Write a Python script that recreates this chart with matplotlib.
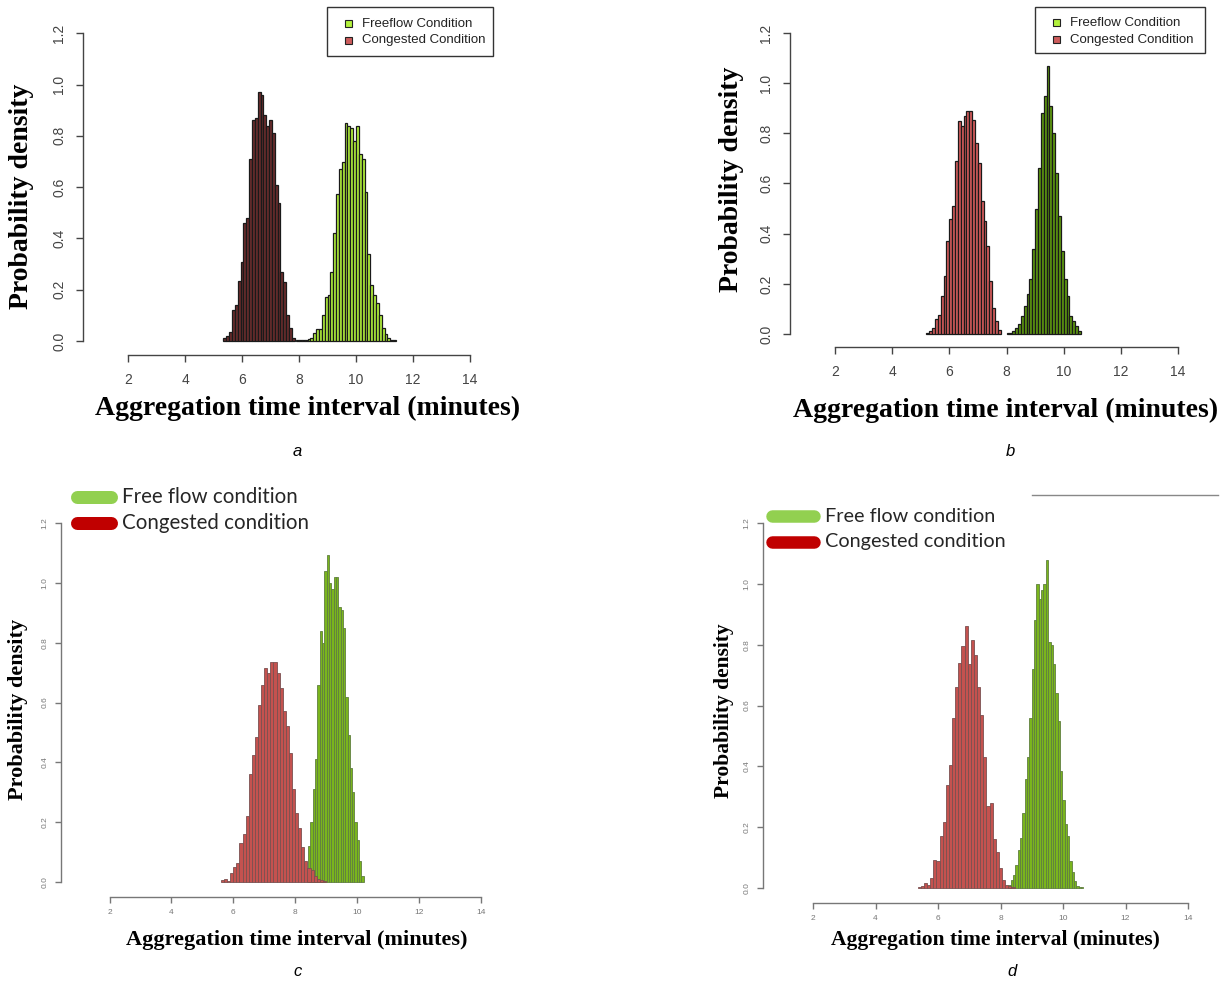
import numpy as np
import matplotlib.pyplot as plt
from matplotlib.patches import Rectangle
from matplotlib.lines import Line2D
from matplotlib.ticker import FormatStrFormatter

# histogram densities: first bin edge, bin width, bar heights
# panel a
freeflow_a_start, freeflow_a_width = 7.9, 0.1
freeflow_a = [0.003, 0.002, 0.002, 0.004, 0.008, 0.013, 0.03, 0.045, 0.047, 0.10, 0.17, 0.18,
              0.27, 0.42, 0.575, 0.67, 0.70, 0.85, 0.84, 0.83, 0.78, 0.84, 0.73, 0.71, 0.58,
              0.34, 0.22, 0.18, 0.15, 0.10, 0.05, 0.026, 0.01, 0.005, 0.003]
congested_a_start, congested_a_width = 5.35, 0.1
congested_a = [0.01, 0.02, 0.035, 0.12, 0.14, 0.235, 0.31, 0.46, 0.48, 0.71, 0.86, 0.87, 0.97,
               0.96, 0.88, 0.84, 0.86, 0.81, 0.61, 0.54, 0.27, 0.23, 0.10, 0.05, 0.01]
# panel b
freeflow_b_start, freeflow_b_width = 8.0, 0.1
freeflow_b = [0.003, 0.005, 0.01, 0.025, 0.04, 0.07, 0.11, 0.16, 0.22, 0.34, 0.50, 0.66, 0.88,
              0.95, 1.07, 0.91, 0.80, 0.64, 0.47, 0.33, 0.22, 0.15, 0.07, 0.05, 0.03, 0.01]
congested_b_start, congested_b_width = 5.2, 0.1
congested_b = [0.005, 0.01, 0.023, 0.06, 0.075, 0.15, 0.23, 0.37, 0.46, 0.51, 0.69, 0.85, 0.83,
               0.87, 0.89, 0.89, 0.855, 0.76, 0.68, 0.53, 0.45, 0.35, 0.21, 0.105, 0.05, 0.015]
# panel c
freeflow_c_start, freeflow_c_width = 8.42, 0.075
freeflow_c = [0.12, 0.20, 0.31, 0.41, 0.66, 0.84, 0.80, 1.04, 1.094, 1.0, 0.98, 1.02, 1.02,
              0.92, 0.91, 0.85, 0.62, 0.49, 0.38, 0.30, 0.20, 0.14, 0.07, 0.02]
congested_c_start, congested_c_width = 5.6, 0.1
congested_c = [0.005, 0.008, 0.004, 0.028, 0.05, 0.063, 0.13, 0.16, 0.22, 0.36, 0.425, 0.485,
               0.593, 0.66, 0.715, 0.70, 0.735, 0.735, 0.70, 0.65, 0.57, 0.52, 0.43, 0.31, 0.23,
               0.18, 0.115, 0.07, 0.045, 0.04, 0.02, 0.01, 0.006, 0.004]
# panel d
freeflow_d_start, freeflow_d_width = 8.25, 0.075
freeflow_d = [0.01, 0.027, 0.044, 0.077, 0.126, 0.164, 0.247, 0.36, 0.43, 0.56, 0.72, 0.88, 1.0,
              0.95, 0.98, 1.0, 1.08, 0.81, 0.80, 0.735, 0.64, 0.55, 0.385, 0.29, 0.21, 0.17,
              0.088, 0.052, 0.022, 0.008, 0.004, 0.004]
congested_d_start, congested_d_width = 5.35, 0.1
congested_d = [0.003, 0.005, 0.016, 0.01, 0.033, 0.093, 0.088, 0.17, 0.216, 0.34, 0.405, 0.56,
               0.66, 0.74, 0.795, 0.863, 0.735, 0.815, 0.765, 0.66, 0.57, 0.43, 0.27, 0.28, 0.16,
               0.12, 0.066, 0.027, 0.01, 0.005, 0.003]

x_ticks = [2, 4, 6, 8, 10, 12, 14]
y_ticks = [0.0, 0.2, 0.4, 0.6, 0.8, 1.0, 1.2]
xlabel = 'Aggregation time interval (minutes)'
ylabel = 'Probability density'

W, H = 1227, 982
fig = plt.figure(figsize=(W / 100, H / 100), dpi=100)


def fx(x):
    return x / W


def fy(y):
    return 1 - y / H


def make_axes(left, bottom, x2, x14, y0, y12, axcol, tsize, tlen, ypad, xpad):
    # pixel geometry of an R style plot -> matplotlib axes
    sx = (x14 - x2) / 12.0
    sy = (y0 - y12) / 1.2
    dx = x2 - left
    dy = bottom - y0
    right = x14 + dx
    top = y12 - dy
    ax = fig.add_axes([fx(left), fy(bottom), (right - left) / W, (bottom - top) / H])
    ax.set_xlim(2 - dx / sx, 14 + dx / sx)
    ax.set_ylim(-dy / sy, 1.2 + dy / sy)
    for s in ['top', 'right']:
        ax.spines[s].set_visible(False)
    ax.spines['left'].set_bounds(0, 1.2)
    ax.spines['bottom'].set_bounds(2, 14)
    for s in ['left', 'bottom']:
        ax.spines[s].set_color(axcol)
        ax.spines[s].set_linewidth(1)
    ax.set_xticks(x_ticks)
    ax.set_yticks(y_ticks)
    ax.yaxis.set_major_formatter(FormatStrFormatter('%.1f'))
    ax.tick_params(colors=axcol, labelcolor=axcol, labelsize=tsize, length=tlen, width=1)
    ax.tick_params(axis='y', pad=ypad, labelrotation=90)
    ax.tick_params(axis='x', pad=xpad)
    for lab in ax.get_yticklabels():
        lab.set_va('center')
    for lab in ax.get_xticklabels() + ax.get_yticklabels():
        lab.set_family('Liberation Sans')
    return ax


def hist(ax, start, width, heights, color, edge, lw):
    edges = start + width * np.arange(len(heights))
    ax.bar(edges, heights, width=width, align='edge', color=color,
           edgecolor=edge, linewidth=lw)


serif = dict(family='Liberation Serif', weight='bold', ha='center', va='center')
cap = dict(family='Liberation Sans', style='italic', fontsize=12, ha='center', va='center')

# ---- panel a ----
ax = make_axes(83, 355, 128, 470, 341, 33.3, '#444444', 10, 5, 7, 8)
hist(ax, freeflow_a_start, freeflow_a_width, freeflow_a, '#b3f23c', '#1a1a1a', 0.9)
hist(ax, congested_a_start, congested_a_width, congested_a, '#6b2d2d', '#1a1a1a', 0.9)
fig.text(fx(308), fy(408), xlabel, fontsize=20, **serif)
fig.text(fx(22), fy(196), ylabel, fontsize=20, rotation=90, **serif)
fig.text(fx(297), fy(452), 'a', **cap)

# ---- panel b ----
ax = make_axes(790, 347, 835, 1178, 334, 33, '#444444', 10, 5, 7, 8)
hist(ax, freeflow_b_start, freeflow_b_width, freeflow_b, '#5e9a0f', '#1a1a1a', 0.9)
hist(ax, congested_b_start, congested_b_width, congested_b, '#d65c5c', '#1a1a1a', 0.9)
fig.text(fx(1006), fy(410), xlabel, fontsize=20, **serif)
fig.text(fx(731), fy(179), ylabel, fontsize=20, rotation=90, **serif)
fig.text(fx(1010), fy(452), 'b', **cap)

# ---- panel c ----
ax = make_axes(61, 897, 109.5, 480.7, 881.7, 523.3, '#777777', 6, 4, 5, 5)
hist(ax, freeflow_c_start, freeflow_c_width, freeflow_c, '#7ab51d', '#5f7f3f', 0.6)
hist(ax, congested_c_start, congested_c_width, congested_c, '#c4524f', '#7a5050', 0.6)
fig.text(fx(297), fy(940), xlabel, fontsize=16, **serif)
fig.text(fx(18), fy(709), ylabel, fontsize=16, rotation=90, **serif)
fig.text(fx(298), fy(972), 'c', **cap)

# ---- panel d ----
ax = make_axes(763, 903, 813, 1188, 888, 523, '#777777', 6, 4, 5, 5)
hist(ax, freeflow_d_start, freeflow_d_width, freeflow_d, '#7ab51d', '#5f7f3f', 0.6)
hist(ax, congested_d_start, congested_d_width, congested_d, '#c4524f', '#7a5050', 0.6)
fig.text(fx(995), fy(940), xlabel, fontsize=15.5, **serif)
fig.text(fx(724), fy(711), ylabel, fontsize=15.5, rotation=90, **serif)
fig.text(fx(1012), fy(972), 'd', **cap)


# ---- legends ----
def box_legend(x0, y0, x1, y1, sqx, rows, tx, colors, labels):
    fig.add_artist(Rectangle((fx(x0), fy(y1)), (x1 - x0) / W, (y1 - y0) / H,
                             transform=fig.transFigure, fill=False,
                             edgecolor='#333333', linewidth=1))
    for yc, c, lab in zip(rows, colors, labels):
        fig.add_artist(Rectangle((fx(sqx), fy(yc + 3.5)), 7 / W, 7 / H,
                                 transform=fig.transFigure, facecolor=c,
                                 edgecolor='#222222', linewidth=0.8))
        fig.text(fx(tx), fy(yc), lab, family='Liberation Sans', fontsize=9.5,
                 color='#222222', ha='left', va='center')


def pill_legend(xa, xb, rows, tx, thick, size, colors, labels):
    for yc, c, lab in zip(rows, colors, labels):
        r = thick / 2
        fig.add_artist(Line2D([fx(xa + r), fx(xb - r)], [fy(yc), fy(yc)],
                              transform=fig.transFigure, color=c,
                              linewidth=thick * 0.72, solid_capstyle='round'))
        fig.text(fx(tx), fy(yc), lab, family='Lato', fontsize=size,
                 color='#262626', ha='left', va='center')


box_legend(327, 7, 493, 56, 345, [23.7, 40.5], 361.7,
           ['#b3f23c', '#cd5c5c'], ['Freeflow Condition', 'Congested Condition'])
box_legend(1035, 7, 1205, 53, 1053, [22.5, 39.5], 1069.5,
           ['#b3f23c', '#cd5c5c'], ['Freeflow Condition', 'Congested Condition'])
pill_legend(70, 117, [497, 523], 122, 13, 14.8,
            ['#92d050', '#c00000'], ['Free flow condition', 'Congested condition'])
pill_legend(766, 820, [516, 541.5], 825, 12.5, 14.3,
            ['#92d050', '#c00000'], ['Free flow condition', 'Congested condition'])

fig.add_artist(Line2D([fx(1032), fx(1218)], [fy(495), fy(495)],
                      transform=fig.transFigure, color='#888888', linewidth=1))

fig.savefig('out.png', dpi=100)
